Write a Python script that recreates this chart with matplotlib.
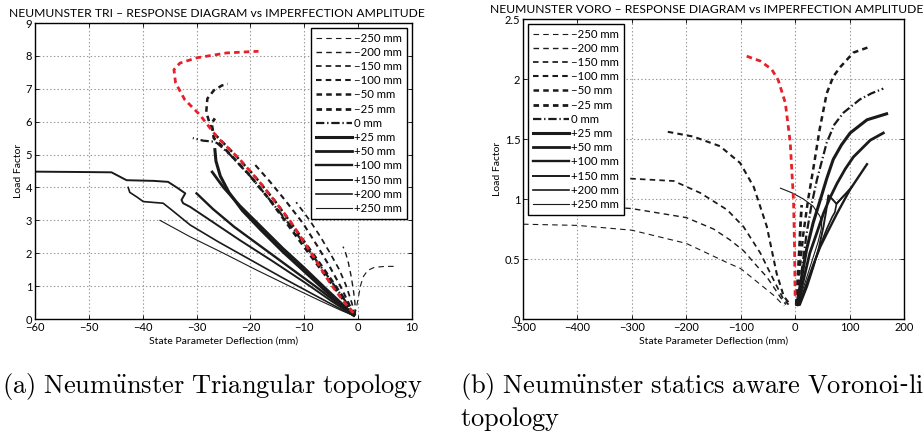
import numpy as np
import matplotlib
matplotlib.use("Agg")
import matplotlib.pyplot as plt

plt.rcParams['font.family'] = ['Lato', 'DejaVu Sans']
plt.rcParams['mathtext.fontset'] = 'cm'
plt.rcParams['lines.scale_dashes'] = False

# legend labels (same order in both panels)
labels = ['\u2212250 mm', '\u2212200 mm', '\u2212150 mm', '\u2212100 mm', '\u221250 mm', '\u221225 mm',
          '0 mm', '+25 mm', '+50 mm', '+100 mm', '+150 mm', '+200 mm', '+250 mm']

# ---- Neumunster TRI: (deflection mm, load factor)
tri_m250 = np.array([(-0.6, 0.12), (-0.2, 0.45), (0.2, 0.8), (0.5, 1.05), (1.0, 1.3), (1.8, 1.48),
                     (3.0, 1.57), (5.0, 1.6), (7.0, 1.6)])
tri_m200 = np.array([(-0.5, 0.12), (-0.6, 0.5), (-0.9, 0.9), (-1.3, 1.3), (-1.8, 1.7), (-2.3, 2.0), (-2.8, 2.2)])
tri_m150 = np.array([(-0.6, 0.12), (-1.2, 0.5), (-2.2, 1.0), (-3.5, 1.5), (-5.2, 2.0), (-7.0, 2.5),
                     (-9.0, 3.0), (-11.5, 3.55)])
tri_m100 = np.array([(-0.7, 0.12), (-1.8, 0.5), (-3.3, 1.0), (-5.3, 1.6), (-7.5, 2.2), (-10.2, 2.9),
                     (-13.5, 3.6), (-16.5, 4.2), (-19.2, 4.7)])
tri_m50 = np.array([(-0.8, 0.12), (-2.5, 0.6), (-5.0, 1.2), (-8.0, 1.9), (-11.5, 2.7), (-15.5, 3.6),
                    (-19.5, 4.4), (-23.5, 5.1), (-26.5, 5.6), (-27.5, 5.9), (-28.2, 6.3), (-28.0, 6.7),
                    (-26.8, 6.95), (-25.3, 7.1), (-24.2, 7.15)])
tri_m25 = np.array([(-0.8, 0.12), (-2.8, 0.6), (-5.5, 1.2), (-8.7, 1.9), (-12.3, 2.7), (-16.3, 3.6),
                    (-20.3, 4.4), (-24.3, 5.1), (-26.8, 5.5), (-27.2, 5.95), (-26.6, 6.1)])
tri_zero = np.array([(-0.7, 0.12), (-2.6, 0.6), (-5.2, 1.2), (-8.3, 1.9), (-11.9, 2.7), (-15.8, 3.5),
                     (-19.8, 4.3), (-23.8, 5.0), (-26.2, 5.35), (-27.2, 5.4), (-28.7, 5.42), (-30.7, 5.5)])
tri_p25 = np.array([(-26.6, 5.15), (-26.4, 4.8), (-25.6, 4.35), (-24.0, 3.85), (-21.5, 3.3), (-18.0, 2.7),
                    (-14.0, 2.05), (-10.0, 1.45), (-6.0, 0.85), (-3.0, 0.42), (-0.8, 0.12)])
tri_p50 = np.array([(-27.1, 4.47), (-25.0, 4.0), (-22.0, 3.45), (-18.0, 2.8), (-14.0, 2.15), (-10.0, 1.55),
                    (-6.0, 0.92), (-3.0, 0.46), (-0.8, 0.12)])
tri_p100 = np.array([(-30.0, 3.82), (-27.0, 3.35), (-23.0, 2.8), (-18.0, 2.2), (-13.0, 1.6), (-8.0, 1.0),
                     (-4.0, 0.5), (-0.8, 0.1)])
tri_p150 = np.array([(-60.0, 4.48), (-52.0, 4.47), (-45.8, 4.46), (-43.0, 4.22), (-38.0, 4.2), (-35.3, 4.17),
                     (-33.5, 3.98), (-32.1, 3.82), (-32.8, 3.62), (-32.5, 3.52), (-31.2, 3.41), (-27.0, 2.95),
                     (-22.0, 2.4), (-16.0, 1.77), (-10.0, 1.12), (-5.0, 0.55), (-0.8, 0.1)])
tri_p200 = np.array([(-42.7, 4.0), (-42.4, 3.85), (-41.0, 3.7), (-39.9, 3.57), (-36.2, 3.52), (-34.5, 3.3),
                     (-31.2, 2.86), (-26.0, 2.35), (-20.0, 1.8), (-14.0, 1.25), (-8.0, 0.72), (-3.0, 0.28),
                     (-0.8, 0.1)])
tri_p250 = np.array([(-36.8, 3.0), (-31.2, 2.5), (-25.0, 2.0), (-19.0, 1.5), (-13.0, 1.02), (-7.0, 0.55),
                     (-3.0, 0.25), (-0.8, 0.1)])
tri_red = np.array([(-0.9, 0.18), (-3.0, 0.6), (-5.2, 1.09), (-8.3, 1.9), (-12.7, 3.0), (-17.6, 4.03),
                    (-21.9, 4.84), (-26.3, 5.55), (-29.4, 6.21), (-32.2, 6.67), (-33.9, 7.18), (-34.2, 7.58),
                    (-33.1, 7.78), (-30.0, 7.94), (-24.4, 8.09), (-18.5, 8.14)])

# ---- Neumunster VORO
vor_m250 = np.array([(-500, 0.79), (-400, 0.78), (-300, 0.74), (-200, 0.63), (-125, 0.47), (-100, 0.42),
                     (-70, 0.31), (-40, 0.2), (-27, 0.14), (-20, 0.11)])
vor_m200 = np.array([(-330, 0.93), (-300, 0.92), (-200, 0.845), (-150, 0.75), (-120, 0.66), (-95, 0.57),
                     (-70, 0.44), (-52, 0.35), (-40, 0.27), (-27, 0.18), (-17, 0.12)])
vor_m150 = np.array([(-303, 1.17), (-223, 1.15), (-174, 1.05), (-125, 0.91), (-95, 0.77), (-64, 0.55),
                     (-40, 0.33), (-21, 0.16), (-12, 0.12)])
vor_m100 = np.array([(-234, 1.56), (-187, 1.52), (-138, 1.44), (-101, 1.3), (-76, 1.1), (-52, 0.77),
                     (-34, 0.38), (-21, 0.19), (-9, 0.12)])
vor_m50 = np.array([(3, 0.12), (8, 0.4), (15, 0.71), (24, 1.0), (34, 1.27), (45, 1.58), (58, 1.88),
                    (70, 2.02), (83, 2.1), (107, 2.22), (138, 2.27)])
vor_m25 = np.array([(2, 0.12), (5, 0.35), (8, 0.6), (10, 0.8), (12, 0.95)])
vor_zero = np.array([(6, 0.12), (12, 0.4), (21, 0.71), (30, 0.95), (40, 1.16), (58, 1.47), (72, 1.62),
                     (89, 1.72), (119, 1.83), (140, 1.88), (162, 1.92)])
vor_p25 = np.array([(3, 0.12), (12, 0.35), (21, 0.58), (33, 0.8), (46, 0.99), (58, 1.17), (70, 1.33),
                    (85, 1.45), (101, 1.55), (132, 1.66), (168, 1.71)])
vor_p50 = np.array([(5, 0.12), (15, 0.32), (27, 0.55), (40, 0.72), (52, 0.88), (64, 1.01), (77, 1.13),
                    (92, 1.25), (107, 1.35), (138, 1.49), (162, 1.55)])
vor_p100 = np.array([(7, 0.12), (20, 0.28), (34, 0.46), (46, 0.6), (58, 0.71), (77, 0.88), (101, 1.08),
                     (132, 1.29)])
vor_p150 = np.array([(9, 0.12), (22, 0.27), (34, 0.44), (44, 0.6), (52, 0.77), (57, 0.9), (61, 1.03),
                     (68, 1.0), (76, 0.96), (86, 1.01), (104, 1.1)])
vor_p200 = np.array([(8, 0.12), (20, 0.26), (32, 0.42), (45, 0.6), (58, 0.75), (68, 0.85), (73, 0.89),
                     (76, 0.96), (88, 1.02), (100, 1.07)])
vor_p250 = np.array([(5, 0.12), (18, 0.3), (30, 0.47), (42, 0.64), (48, 0.75), (49, 0.82), (45, 0.86),
                     (33, 0.94), (15, 1.0), (-5, 1.05), (-27, 1.09)])
vor_red = np.array([(-89, 2.19), (-64, 2.15), (-43, 2.08), (-31, 1.99), (-18, 1.8), (-9, 1.47), (-3, 0.99),
                    (-1, 0.58), (0, 0.16)])

tri_curves = [tri_m250, tri_m200, tri_m150, tri_m100, tri_m50, tri_m25, tri_zero,
              tri_p25, tri_p50, tri_p100, tri_p150, tri_p200, tri_p250]
vor_curves = [vor_m250, vor_m200, vor_m150, vor_m100, vor_m50, vor_m25, vor_zero,
              vor_p25, vor_p50, vor_p100, vor_p150, vor_p200, vor_p250]

# line widths / dash patterns per legend entry
widths = [0.8, 1.0, 1.25, 1.5, 1.8, 2.0, 1.6, 2.2, 2.0, 1.7, 1.4, 1.2, 0.8]
dashes = [(4, 3)] * 6 + [(6, 2, 1, 2)] + [None] * 6

fig = plt.figure(figsize=(9.23, 4.36), dpi=100)
ax1 = fig.add_axes([35 / 923, 117 / 436, 377 / 923, 296 / 436])
ax2 = fig.add_axes([523 / 923, 117 / 436, 381 / 923, 300 / 436])


def draw(ax, curves, red, title, xlim, ylim, xticks, yticks, legend_loc):
    handles = []
    for data, lab, lw, ds in zip(curves, labels, widths, dashes):
        line, = ax.plot(data[:, 0], data[:, 1], color='#1a1a1a', lw=lw, label=lab)
        if ds is not None:
            line.set_dashes(ds)
        handles.append(line)
    red_line, = ax.plot(red[:, 0], red[:, 1], color='#e8202a', lw=2.0)
    red_line.set_dashes((4, 3))

    ax.set_xlim(*xlim)
    ax.set_ylim(*ylim)
    ax.set_xticks(xticks)
    ax.set_yticks(yticks)
    ax.set_xticklabels([str(t).replace('-', '\u2212') for t in xticks])
    ax.grid(True, linestyle=':', color='#999999', lw=0.8)
    ax.tick_params(direction='in', length=3, width=0.6, top=True, right=True, labelsize=8, pad=2)
    for s in ax.spines.values():
        s.set_linewidth(1.0)
    ax.set_xlabel('State Parameter Deflection (mm)', fontsize=7.5, labelpad=3)
    ax.set_ylabel('Load Factor', fontsize=7.5, labelpad=2)
    ax.set_title(title, fontsize=8.75, pad=4, x=0.483)
    leg = ax.legend(handles=handles, loc=legend_loc, fontsize=8.2, frameon=True, fancybox=False,
                    framealpha=1, edgecolor='black', labelspacing=0.28, handlelength=3.2,
                    handletextpad=0.2, borderaxespad=0.4, borderpad=0.45)
    leg.get_frame().set_linewidth(1.0)


draw(ax1, tri_curves, tri_red, 'NEUMUNSTER TRI \u2013 RESPONSE DIAGRAM vs IMPERFECTION AMPLITUDE',
     (-60, 10), (0, 9), list(range(-60, 11, 10)), list(range(0, 10)), 'upper right')
draw(ax2, vor_curves, vor_red, 'NEUMUNSTER VORO \u2013 RESPONSE DIAGRAM vs IMPERFECTION AMPLITUDE',
     (-500, 200), (0, 2.5), list(range(-500, 201, 100)), [0, 0.5, 1, 1.5, 2, 2.5], 'upper left')
ax2.set_yticklabels(['0', '0.5', '1', '1.5', '2', '2.5'])

fig.text(2 / 923, 1 - 386 / 436, r'$\mathrm{(a)\ Neum\ddot{u}nster\ Triangular\ topology}$',
         fontsize=19, ha='left', va='center')
fig.text(460 / 923, 1 - 386 / 436, r'$\mathrm{(b)\ Neum\ddot{u}nster\ statics\ aware\ Voronoi}$-$\mathrm{like}$',
         fontsize=19, ha='left', va='center')
fig.text(460 / 923, 1 - 419 / 436, r'$\mathrm{topology}$', fontsize=19, ha='left', va='center')

fig.savefig('out.png', dpi=100)
